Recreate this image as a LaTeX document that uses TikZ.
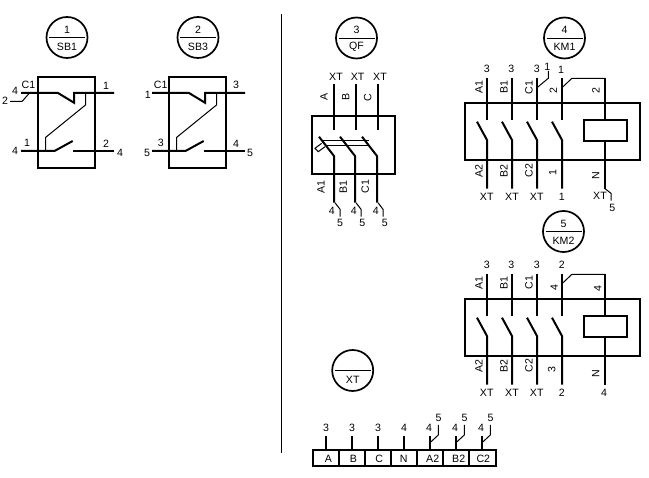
\documentclass[tikz,border=0pt]{standalone}
\usepackage{fontspec}
\setmainfont{Liberation Sans}
\tikzset{
  x=1pt,y=-1pt,
  heavy/.style={line width=2pt,line cap=butt,line join=miter},
  fine/.style={line width=1pt,line cap=butt,line join=miter},
  lab/.style={inner sep=0pt,font=\fontsize{10.6}{10.6}\selectfont},
  rlab/.style={lab,rotate=90},
}
\newcommand{\tagcircle}[5]{% name, x, y, top, bottom
  \node[circle,draw,line width=1.7pt,minimum size=41pt,inner sep=0pt] (#1) at (#2,#3) {};
  \draw[fine] ([shift={(-18,0.5)}]#1.center) -- ([shift={(18,0.5)}]#1.center);
  \node[lab] at ([shift={(0,-8)}]#1.center) {#4};
  \node[lab] at ([shift={(0,9)}]#1.center) {#5};
}
\newcommand{\pushbutton}[1]{% x offset
  \begin{scope}[shift={(#1,0)}]
    \draw[heavy] (38,77) rectangle (95,168);
    \draw[heavy] (21,93) -- (58,93) -- (74,102.7) -- (74,93) -- (114,93);
    \draw[heavy] (21,151) -- (54.5,151) -- (72.7,141);
    \draw[heavy] (73,151) -- (114,151);
    \draw[fine] (85.5,93) -- (85.5,105) -- (45.5,137.5) -- (45.5,151);
  \end{scope}
}
\newcommand{\contactor}[1]{% y offset
  \begin{scope}[shift={(0,#1)}]
    \draw[heavy] (465,103) rectangle (640,160);
    \foreach \px in {487,512,537,562}{
      \draw[heavy] (\px,78) -- (\px,120);
      \draw[heavy] (\px-10,121.7) -- (\px,140) -- (\px,188.7);
    }
    \draw[heavy] (605,78) -- (605,120);
    \draw[heavy] (605,141) -- (605,188.7);
    \draw[heavy,fill=white] (584,120) rectangle (627,141);
    \draw[fine] (562,87.7) -- (571.7,78.5) -- (605,78.5);
  \end{scope}
}
\begin{document}
\begin{tikzpicture}
\useasboundingbox (0,0) rectangle (649,478);
\fill[white] (0,0) rectangle (649,478);

% divider
\draw[fine] (281.5,14) -- (281.5,453);

% tags
\tagcircle{t1}{67}{37.5}{1}{SB1}
\tagcircle{t2}{198}{37.5}{2}{SB3}
\tagcircle{t3}{356.5}{38}{3}{QF}
\tagcircle{t4}{564.5}{38}{4}{KM1}
\tagcircle{t5}{563.5}{231.5}{5}{KM2}
\tagcircle{t6}{352.7}{370.5}{}{XT}

% SB1, SB3
\pushbutton{0}
\pushbutton{131}
\draw[fine] (10,101.5) -- (22,101.5) -- (29.5,93);
\foreach \px/\py/\t in {15/91/4,28.5/85/C1,5/101/2,106/85.5/1,27/143/1,15/151/4,106/144/2,120/152.5/4,
  147.7/95/1,160.7/85/C1,236/85/3,160.7/143/3,147/152.7/5,236/144/4,250/152.7/5}
  \node[lab] at (\px,\py) {\t};

% QF
\draw[heavy] (312,116) rectangle (395,174);
\foreach \px in {334,356,378}{
  \draw[heavy] (\px,84) -- (\px,130);
}
\foreach \px in {334,355,377}{
  \draw[heavy] (\px-15,136.7) -- (\px,156) -- (\px,202.7);
  \draw[fine] (\px+1,202.7) -- (\px+6,209.3) -- (\px+6,216.7);
}
\draw[fine] (323,141) -- (369,141);
\draw[fine] (325,146) -- (369,146);
\draw[fine] (321.7,143.3) -- (315,148.3) -- (318.3,151.7) -- (325,146.7);
\foreach \px/\py/\t in {336/76.7/XT,357.7/76.7/XT,380/76.7/XT,331.7/211/4,353.7/211/4,375.7/211/4,340/222.7/5,362.3/222.7/5,384.7/222.7/5}
  \node[lab] at (\px,\py) {\t};
\foreach \px/\py/\t in {324/97.3/A,345.7/97.3/B,367.7/97.3/C,321/186.7/A1,343.3/186.7/B1,365.3/186.7/C1}
  \node[rlab] at (\px,\py) {\t};

% KM1
\contactor{0}
\draw[fine] (537,87.7) -- (548.3,78.3) -- (548.3,71);
\draw[fine] (605,188.7) -- (611,193.3) -- (611,200.7);
\foreach \px/\py/\t in {486.7/69/3,511.3/69/3,536.7/69/3,547.3/66.7/1,561/70/1,
  486.7/197.3/XT,512/197.3/XT,536.7/197.3/XT,561.7/197.3/1,600/196/XT,612.3/207.7/5}
  \node[lab] at (\px,\py) {\t};
\foreach \px/\py/\t in {479/87.3/A1,504/87.3/B1,529/87.3/C1,553.3/91/2,596/91/2,
  479/170.7/A2,504/170.7/B2,529/170.7/C2,552.7/172.7/1,595.7/176/N}
  \node[rlab] at (\px,\py) {\t};

% KM2
\contactor{196}
\foreach \px/\py/\t in {486.7/265/3,511.3/265/3,536.7/265/3,561.7/265/2,
  486.7/392.7/XT,512/392.7/XT,536.7/392.7/XT,561.7/392.7/2,604/392.7/4}
  \node[lab] at (\px,\py) {\t};
\foreach \px/\py/\t in {479/282.7/A1,504/282.7/B1,529/282.7/C1,554.3/287.7/4,597.7/288.3/4,
  479/365.7/A2,504/365.7/B2,529/365.7/C2,551.7/369.3/3,595.7/373.3/N}
  \node[rlab] at (\px,\py) {\t};

% terminal strip
\draw[heavy] (313,450) rectangle (496,466);
\foreach \px in {339,365,391,417,443,469}
  \draw[heavy] (\px,450) -- (\px,466);
\foreach \px/\n/\t in {326/3/A,352/3/B,378/3/C,404/4/N}{
  \draw[heavy] (\px,436) -- (\px,450);
  \node[lab] at (\px,428.3) {\n};
}
\foreach \px in {430,456,482}{
  \draw[heavy] (\px,436) -- (\px,450);
  \draw[fine] (\px,442.7) -- (\px+8.3,435) -- (\px+8.3,425);
  \node[lab] at (\px-1,428.3) {4};
  \node[lab] at (\px+8.5,417.7) {5};
}
\foreach \px/\t in {328.3/A,353.3/B,379.3/C,403.7/N,432.7/A2,458.7/B2,483.3/C2}
  \node[lab] at (\px,459) {\t};
\end{tikzpicture}
\end{document}
